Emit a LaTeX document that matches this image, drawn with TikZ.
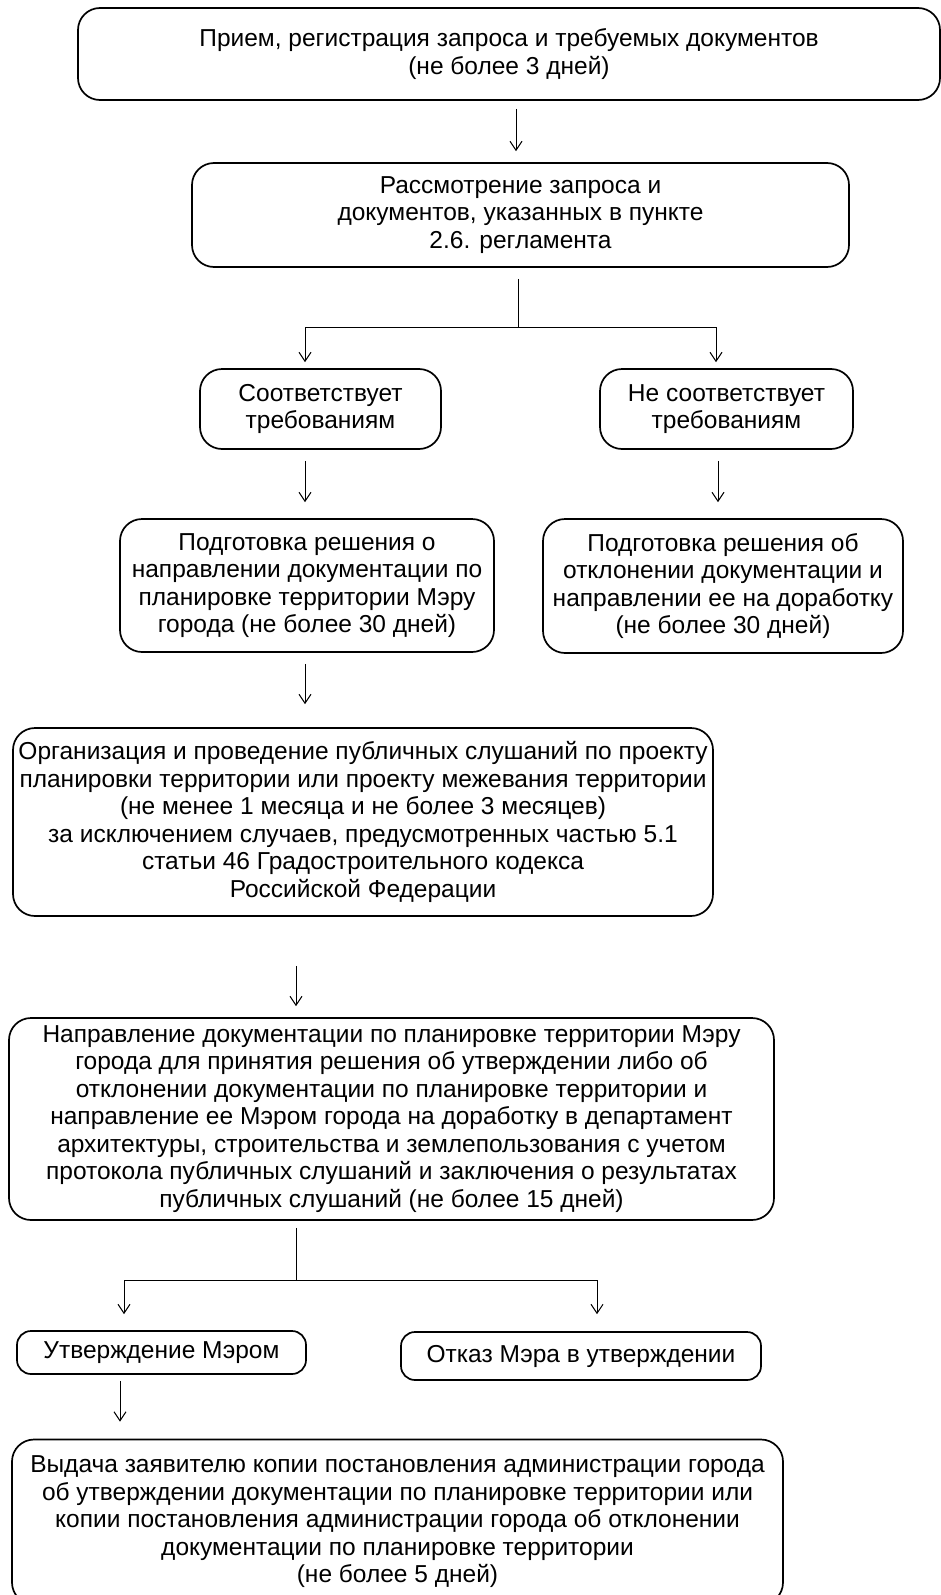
\documentclass[tikz,border=0pt]{standalone}
\usepackage{fontspec}
\setmainfont{Liberation Sans}
\usepackage{tikz}
\usetikzlibrary{arrows.meta}

\newcommand{\boxfont}{\fontsize{24.5}{27.5}\selectfont}

\begin{document}
\begin{tikzpicture}[x=1pt, y=-1pt,
    stage/.style={draw, line width=1.7pt, rounded corners=22pt, align=center,
      inner sep=0pt, font=\boxfont},
    flow/.style={-{Straight Barb[length=9pt,width=12pt]}, line width=1pt},
    link/.style={line width=1pt}]
  \path[use as bounding box, clip] (0,0) rectangle (941,1595);

  % stages
  \node[stage, minimum width=862, minimum height=92]  (recv)   at (509,54)
    {Прием, регистрация запроса и требуемых документов\\(не более 3 дней)};
  \node[stage, minimum width=657, minimum height=104] (review) at (520.5,215)
    {Рассмотрение запроса и\\документов, указанных в пункте\\2.6. регламента};
  \node[stage, minimum width=241, minimum height=80]  (ok)     at (320.5,409)
    {Соответствует\\требованиям};
  \node[stage, minimum width=253, minimum height=80]  (notok)  at (726.5,409)
    {Не соответствует\\требованиям};
  \node[stage, minimum width=374, minimum height=133] (prep)   at (307,585.5)
    {Подготовка решения о\\направлении документации по\\планировке территории Мэру\\города (не более 30 дней)};
  \node[stage, minimum width=360, minimum height=134] (reject) at (723,586)
    {Подготовка решения об\\отклонении документации и\\направлении ее на доработку\\(не более 30 дней)};
  \node[stage, minimum width=700, minimum height=188] (hear)   at (363,822)
    {Организация и проведение публичных слушаний по проекту\\планировки территории или проекту межевания территории\\(не менее 1 месяца и не более 3 месяцев)\\за исключением случаев, предусмотренных частью 5.1\\статьи 46 Градостроительного кодекса\\Российской Федерации};
  \node[stage, minimum width=765, minimum height=202] (send)   at (391.5,1119)
    {Направление документации по планировке территории Мэру\\города для принятия решения об утверждении либо об\\отклонении документации по планировке территории и\\направление ее Мэром города на доработку в департамент\\архитектуры, строительства и землепользования с учетом\\протокола публичных слушаний и заключения о результатах\\публичных слушаний (не более 15 дней)};
  \node[stage, rounded corners=14pt, minimum width=289, minimum height=43]  (approve) at (161.5,1352.5)
    {Утверждение Мэром};
  \node[stage, rounded corners=14pt, minimum width=360, minimum height=48]  (refuse) at (581,1356)
    {Отказ Мэра в утверждении};
  \node[stage, minimum width=771, minimum height=165] (issue)  at (397.5,1522)
    {Выдача заявителю копии постановления администрации города\\об утверждении документации по планировке территории или\\копии постановления администрации города об отклонении\\документации по планировке территории\\(не более 5 дней)};

  % arrow lanes
  \coordinate (laneA) at (516,0);
  \coordinate (laneB) at (518,327);
  \coordinate (forkL) at (305,327);
  \coordinate (forkR) at (716,327);
  \coordinate (laneC) at (305,0);
  \coordinate (laneD) at (718,0);
  \coordinate (laneE) at (296,0);
  \coordinate (laneF) at (296,1280);
  \coordinate (forkL2) at (124,1280);
  \coordinate (forkR2) at (597,1280);
  \coordinate (laneG) at (120,0);

  \draw[flow, shorten <=8pt, shorten >=11pt] (laneA |- recv.south) -- (laneA |- review.north);
  \draw[link, shorten <=11pt] (laneB |- review.south) -- (laneB);
  \draw[link] (forkL) -- (forkR);
  \draw[flow, shorten >=6pt] (forkL) -- (forkL |- ok.north);
  \draw[flow, shorten >=6pt] (forkR) -- (forkR |- notok.north);
  \draw[flow, shorten <=11pt, shorten >=16pt] (laneC |- ok.south) -- (laneC |- prep.north);
  \draw[flow, shorten <=11pt, shorten >=16pt] (laneD |- notok.south) -- (laneD |- reject.north);
  \draw[flow, shorten <=11pt, shorten >=23pt] (laneC |- prep.south) -- (laneC |- hear.north);
  \draw[flow, shorten <=49pt, shorten >=11pt] (laneE |- hear.south) -- (laneE |- send.north);
  \draw[link, shorten <=7pt] (laneF |- send.south) -- (laneF);
  \draw[link] (forkL2) -- (forkR2);
  \draw[flow, shorten >=16pt] (forkL2) -- (forkL2 |- approve.north);
  \draw[flow, shorten >=17pt] (forkR2) -- (forkR2 |- refuse.north);
  \draw[flow, shorten <=6pt, shorten >=17pt] (laneG |- approve.south) -- (laneG |- issue.north);
\end{tikzpicture}
\end{document}
